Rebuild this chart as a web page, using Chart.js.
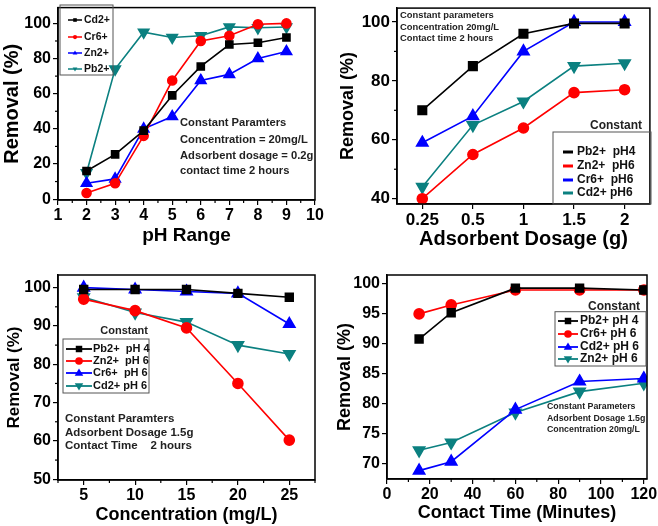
<!DOCTYPE html>
<html>
<head>
<meta charset="utf-8">
<title>Removal efficiency</title>
<script src="https://cdn.jsdelivr.net/npm/chart.js"></script>
<style>
  body { margin: 0; background: #fff; }
  canvas { position: absolute; }
</style>
</head>
<body>
<canvas id="phChart" width="329" height="262" style="left:0;top:0"></canvas>
<canvas id="doseChart" width="329" height="262" style="left:329px;top:0"></canvas>
<canvas id="concChart" width="329" height="264" style="left:0;top:262px"></canvas>
<canvas id="timeChart" width="329" height="264" style="left:329px;top:262px"></canvas>

<script>
// pH panel
const phValues = [2, 3, 4, 5, 6, 7, 8, 9];
const phCd = [16, 25.5, 39, 59, 75.5, 88, 89, 92];
const phCr = [3.5, 9, 36, 67.5, 90, 93, 99.5, 100];
const phZn = [9, 11.5, 40, 47, 67.5, 71, 80, 84];
const phPb = [15, 74, 95, 92, 93, 98, 97.5, 98];
const phXTicks = [1, 2, 3, 4, 5, 6, 7, 8, 9, 10];
const phYTicks = [0, 20, 40, 60, 80, 100];

// dosage panel
const doseLabels = ['0.25', '0.5', '1', '1.5', '2'];
const dosePb = [70, 85, 96, 99.5, 99.5];
const doseZn = [40, 55, 64, 76, 77];
const doseCr = [59, 68, 90, 100, 100];
const doseCd = [44, 65, 73, 85, 86];
const doseYTicks = [40, 60, 80, 100];

// concentration panel
const concValues = [5, 10, 15, 20, 25];
const concPb = [99.5, 99.5, 99.5, 98.5, 97.5];
const concZn = [97, 94, 89.5, 75, 60.2];
const concCr = [100, 99.5, 99, 98.5, 90.5];
const concCd = [97.5, 93.5, 91, 85, 82.7];
const concXTicks = [5, 10, 15, 20, 25];
const concYTicks = [50, 60, 70, 80, 90, 100];

// contact time panel
const timeValues = [15, 30, 60, 90, 120];
const timePb = [90.8, 95.2, 99.3, 99.3, 99];
const timeCr = [95, 96.5, 99, 99, 99];
const timeCd = [68.8, 70.3, 79, 83.7, 84.2];
const timeZn = [72.2, 73.5, 78.5, 82, 83.4];
const timeXTicks = [0, 20, 40, 60, 80, 100, 120];
const timeYTicks = [70, 75, 80, 85, 90, 95, 100];

const BLACK = '#000000', RED = '#ff0000', BLUE = '#0000ff', TEAL = '#0b8080';
const FONT = '"Liberation Sans", Arial, sans-serif';

Chart.defaults.font.family = FONT;
Chart.defaults.font.weight = 'bold';
Chart.defaults.color = '#000';

const marker = {
  square: { pointStyle: 'rect', pointRotation: 0, color: BLACK },
  circle: { pointStyle: 'circle', pointRotation: 0, color: RED },
  up: { pointStyle: 'triangle', pointRotation: 0, color: BLUE },
  down: { pointStyle: 'triangle', pointRotation: 180, color: TEAL }
};

function series(label, xs, ys, kind, radius) {
  const m = marker[kind];
  return {
    label: label,
    data: xs ? xs.map((x, i) => ({ x: x, y: ys[i] })) : ys,
    borderColor: m.color,
    backgroundColor: m.color,
    pointBackgroundColor: m.color,
    pointBorderColor: m.color,
    pointStyle: m.pointStyle,
    pointRotation: m.pointRotation,
    pointRadius: radius,
    borderWidth: 1.6,
    tension: 0
  };
}

function drawMark(ctx, kind, x, y, r) {
  const m = marker[kind];
  ctx.fillStyle = m.color;
  ctx.beginPath();
  if (kind === 'square') {
    ctx.rect(x - r * 0.72, y - r * 0.72, r * 1.44, r * 1.44);
  } else if (kind === 'circle') {
    ctx.arc(x, y, r * 0.85, 0, Math.PI * 2);
  } else if (kind === 'up') {
    ctx.moveTo(x, y - r); ctx.lineTo(x + r * 0.95, y + r * 0.6); ctx.lineTo(x - r * 0.95, y + r * 0.6);
  } else {
    ctx.moveTo(x, y + r); ctx.lineTo(x + r * 0.95, y - r * 0.6); ctx.lineTo(x - r * 0.95, y - r * 0.6);
  }
  ctx.closePath();
  ctx.fill();
}

// frame, minor ticks, inside legend and the notes
const framePlugin = {
  id: 'frame',
  afterDraw(chart, args, o) {
    const ctx = chart.ctx;
    const a = chart.chartArea;
    ctx.save();
    ctx.strokeStyle = '#000';
    ctx.lineWidth = 1.5;
    ctx.strokeRect(a.left, a.top, a.right - a.left, a.bottom - a.top);

    ctx.lineWidth = 1.2;
    if (o.minorX) {
      const s = chart.scales.x;
      for (let v = o.minorX[0]; v <= o.minorX[2] + 1e-9; v += o.minorX[1]) {
        const px = s.getPixelForValue(v);
        ctx.beginPath(); ctx.moveTo(px, a.bottom); ctx.lineTo(px, a.bottom + 3); ctx.stroke();
      }
    }
    if (o.minorY) {
      const s = chart.scales.y;
      for (let v = o.minorY[0]; v <= o.minorY[2] + 1e-9; v += o.minorY[1]) {
        const py = s.getPixelForValue(v);
        ctx.beginPath(); ctx.moveTo(a.left, py); ctx.lineTo(a.left - 3, py); ctx.stroke();
      }
    }

    const lg = o.legend;
    if (lg) {
      ctx.strokeStyle = '#555';
      ctx.lineWidth = 1;
      ctx.strokeRect(lg.box[0], lg.box[1], lg.box[2], lg.box[3]);
      ctx.font = 'bold ' + lg.size + 'px ' + FONT;
      ctx.textBaseline = 'middle';
      if (lg.title) {
        ctx.fillStyle = '#222';
        ctx.textAlign = 'right';
        ctx.fillText(lg.title, lg.titleX, lg.titleY);
      }
      ctx.textAlign = 'left';
      chart.data.datasets.forEach((ds, i) => {
        const y = lg.rows[i];
        ctx.strokeStyle = ds.borderColor;
        ctx.lineWidth = lg.lineWidth;
        ctx.beginPath(); ctx.moveTo(lg.line[0], y); ctx.lineTo(lg.line[1], y); ctx.stroke();
        if (lg.mark) drawMark(ctx, lg.kinds[i], (lg.line[0] + lg.line[1]) / 2, y, lg.mark);
        ctx.fillStyle = '#111';
        ctx.fillText(ds.label, lg.textX, y);
      });
    }

    if (o.notes) {
      ctx.font = 'bold ' + o.notes.size + 'px ' + FONT;
      ctx.fillStyle = '#222';
      ctx.textAlign = 'left';
      ctx.textBaseline = 'middle';
      o.notes.lines.forEach((t, i) => ctx.fillText(t, o.notes.x, o.notes.rows[i]));
    }
    ctx.restore();
  }
};

function panel(id, cfg) {
  const canvas = document.getElementById(id);
  const W = canvas.width, H = canvas.height;
  const A = cfg.area; // [left, top, right, bottom] of the plot box
  const axisX = {
    type: cfg.xType || 'linear',
    min: cfg.xMin, max: cfg.xMax,
    offset: cfg.xType === 'category',
    grid: { drawOnChartArea: false, drawTicks: true, tickLength: 5, tickColor: '#000', lineWidth: 1.2 },
    border: { color: '#000', width: 1.5 },
    ticks: { font: { size: cfg.tickSize, weight: 'bold' }, padding: 1, maxRotation: 0, autoSkip: false },
    title: { display: true, text: cfg.xTitle, font: { size: cfg.xTitleSize, weight: 'bold' }, padding: { top: 0, bottom: cfg.xTitlePad } },
    afterFit: s => { s.height = H - A[3]; s.paddingLeft = 0; s.paddingRight = 0; }
  };
  if (cfg.xTicks) axisX.afterBuildTicks = s => { s.ticks = cfg.xTicks.map(v => ({ value: v })); };
  const axisY = {
    type: 'linear',
    min: cfg.yMin, max: cfg.yMax,
    grid: { drawOnChartArea: false, drawTicks: true, tickLength: 5, tickColor: '#000', lineWidth: 1.2 },
    border: { color: '#000', width: 1.5 },
    ticks: { font: { size: cfg.tickSize, weight: 'bold' }, padding: 2 },
    title: { display: true, text: 'Removal (%)', font: { size: cfg.yTitleSize, weight: 'bold' }, padding: { top: cfg.yTitlePad, bottom: 0 } },
    afterBuildTicks: s => { s.ticks = cfg.yTicks.map(v => ({ value: v })); },
    afterFit: s => { s.width = A[0]; s.paddingTop = 0; s.paddingBottom = 0; }
  };
  return new Chart(canvas.getContext('2d'), {
    type: 'line',
    data: { labels: cfg.labels, datasets: cfg.datasets },
    options: {
      responsive: false,
      animation: false,
      layout: { padding: { left: 0, top: A[1], right: W - A[2], bottom: 0 } },
      plugins: {
        legend: { display: false },
        tooltip: { enabled: false },
        frame: { minorX: cfg.minorX, minorY: cfg.minorY, legend: cfg.legend, notes: cfg.notes }
      },
      scales: { x: axisX, y: axisY }
    },
    plugins: [framePlugin]
  });
}

panel('phChart', {
  area: [58, 5, 315, 200],
  xMin: 1, xMax: 10, yMin: -0.5, yMax: 109,
  xTicks: phXTicks, yTicks: phYTicks,
  minorX: [1.5, 1, 9.5], minorY: [10, 20, 90],
  tickSize: 16, xTitle: 'pH Range', xTitleSize: 19, xTitlePad: 15, yTitleSize: 20, yTitlePad: 0,
  datasets: [
    series('Cd2+', phValues, phCd, 'square', 5),
    series('Cr6+', phValues, phCr, 'circle', 4.5),
    series('Zn2+', phValues, phZn, 'up', 6),
    series('Pb2+', phValues, phPb, 'down', 6)
  ],
  legend: {
    box: [60, 5, 53, 70], rows: [20, 37, 53, 69], line: [68, 82], textX: 84, size: 10.5,
    lineWidth: 1.5, mark: 2.5, kinds: ['square', 'circle', 'up', 'down']
  },
  notes: { x: 180, rows: [123, 139.5, 156, 171], size: 11.2,
    lines: ['Constant Paramters', 'Concentration = 20mg/L', 'Adsorbent dosage = 0.2g', 'contact time 2 hours'] }
});

panel('doseChart', {
  area: [68, 5, 323, 204],
  xType: 'category', labels: doseLabels,
  yMin: 38.2, yMax: 104.7, yTicks: doseYTicks,
  minorY: [50, 20, 90],
  tickSize: 17, xTitle: 'Adsorbent Dosage (g)', xTitleSize: 20, xTitlePad: 11, yTitleSize: 18, yTitlePad: 8,
  datasets: [
    series('Pb2+  pH4', null, dosePb, 'square', 6),
    series('Zn2+  pH6', null, doseZn, 'circle', 5),
    series('Cr6+  pH6', null, doseCr, 'up', 6.5),
    series('Cd2+ pH6', null, doseCd, 'down', 6.5)
  ],
  legend: {
    title: 'Constant', titleX: 313, titleY: 126,
    box: [224, 132, 98, 72], rows: [152, 166, 180, 193], line: [234, 244], textX: 248, size: 12,
    lineWidth: 3, mark: 0, kinds: ['square', 'circle', 'up', 'down']
  },
  notes: { x: 71, rows: [15, 27, 38.5], size: 9.4,
    lines: ['Constant parameters', 'Concentration 20mg/L', 'Contact time 2 hours'] }
});

panel('concChart', {
  area: [58, 13, 315, 218],
  xMin: 2.5, xMax: 27.5, yMin: 49.8, yMax: 103.3,
  xTicks: concXTicks, yTicks: concYTicks,
  minorX: [2.5, 5, 27.5], minorY: [55, 10, 95],
  tickSize: 16, xTitle: 'Concentration (mg/L)', xTitleSize: 18, xTitlePad: 0, yTitleSize: 17, yTitlePad: 4,
  datasets: [
    series('Pb2+  pH 4', concValues, concPb, 'square', 5.5),
    series('Zn2+  pH 6', concValues, concZn, 'circle', 5),
    series('Cr6+  pH 6', concValues, concCr, 'up', 6.5),
    series('Cd2+ pH 6', concValues, concCd, 'down', 6.5)
  ],
  legend: {
    title: 'Constant', titleX: 148, titleY: 69,
    box: [63, 77, 86, 54], rows: [87, 99, 111, 124], line: [66, 92], textX: 93, size: 11,
    lineWidth: 1.8, mark: 4.5, kinds: ['square', 'circle', 'up', 'down']
  },
  notes: { x: 65, rows: [157, 170.5, 183.5], size: 11.5,
    lines: ['Constant Paramters', 'Adsorbent Dosage 1.5g', 'Contact Time    2 hours'] }
});

panel('timeChart', {
  area: [58, 13, 318, 217],
  xMin: 0, xMax: 121.5, yMin: 67.4, yMax: 101.5,
  xTicks: timeXTicks, yTicks: timeYTicks,
  minorX: [10, 20, 110],
  tickSize: 16, xTitle: 'Contact Time (Minutes)', xTitleSize: 18, xTitlePad: 2, yTitleSize: 18, yTitlePad: 5,
  datasets: [
    series('Pb2+ pH 4', timeValues, timePb, 'square', 5.5),
    series('Cr6+ pH 6', timeValues, timeCr, 'circle', 5),
    series('Cd2+ pH 6', timeValues, timeCd, 'up', 6.5),
    series('Zn2+ pH 6', timeValues, timeZn, 'down', 6.5)
  ],
  legend: {
    title: 'Constant', titleX: 311, titleY: 44.7,
    box: [226, 49.7, 91, 54.3], rows: [59, 72, 85, 97], line: [229, 249], textX: 251, size: 12,
    lineWidth: 1.8, mark: 4.5, kinds: ['square', 'circle', 'up', 'down']
  },
  notes: { x: 218, rows: [144.7, 157, 167.5], size: 8.8,
    lines: ['Constant Parameters', 'Adsorbent Dosage 1.5g', 'Concentration 20mg/L'] }
});
</script>
</body>
</html>
